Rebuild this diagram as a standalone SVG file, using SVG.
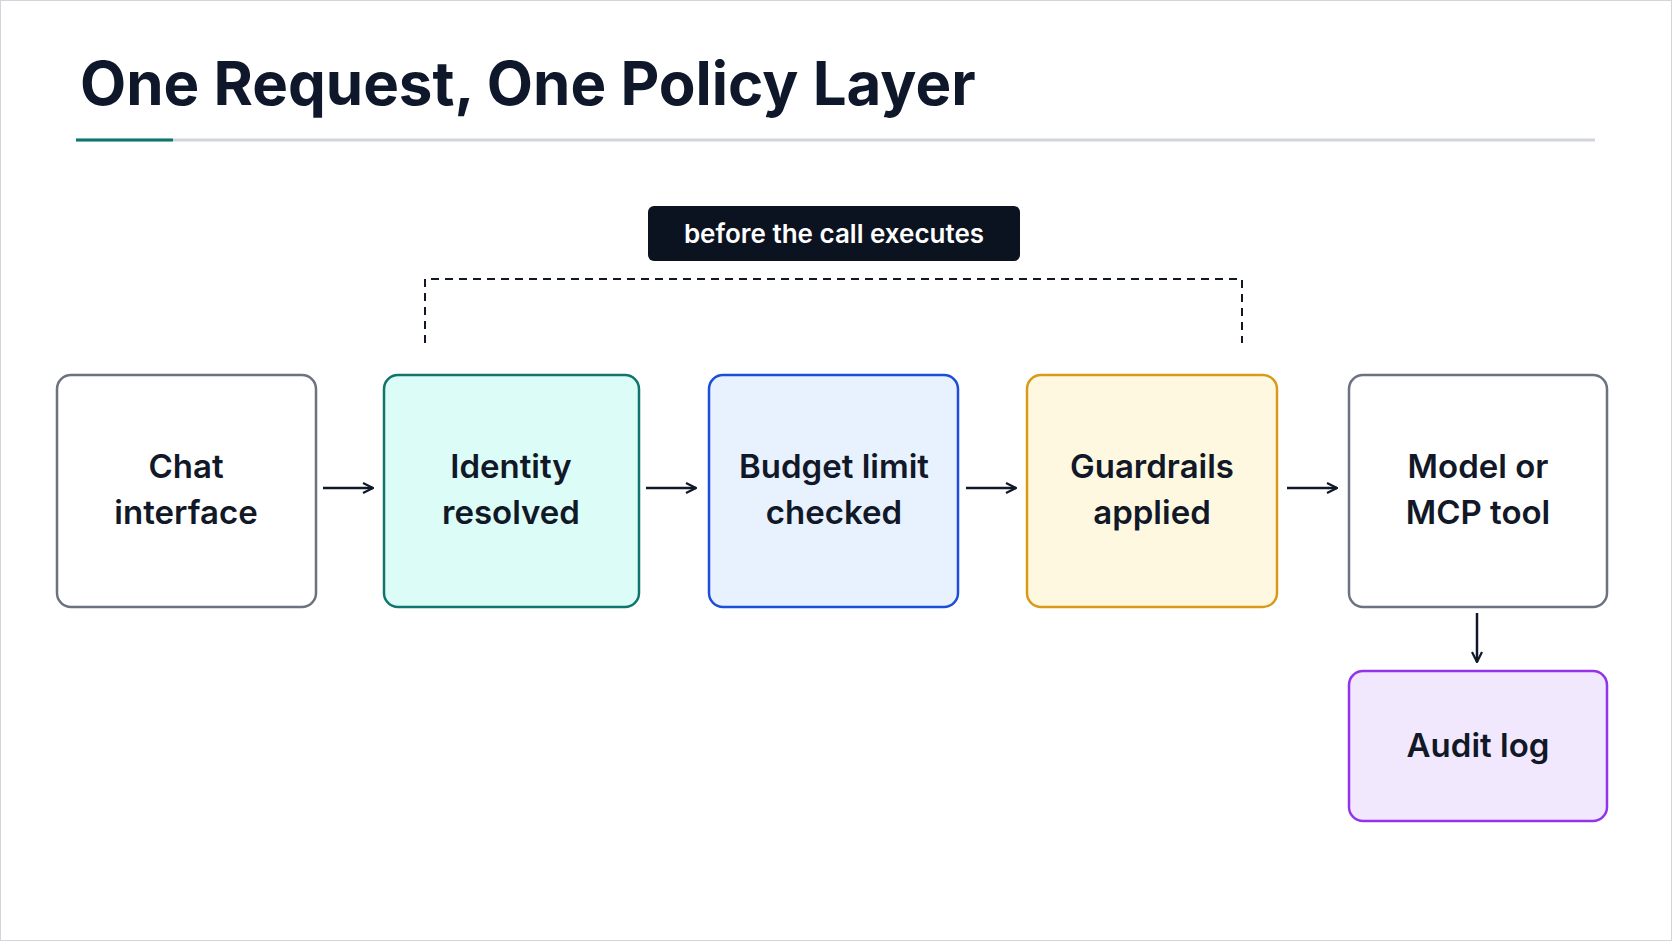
<svg xmlns="http://www.w3.org/2000/svg" width="1672" height="941" viewBox="0 0 1672 941">
<defs>
<style>
.n{stroke-width:2.5}
.t{font-family:Inter,"Liberation Sans",sans-serif;font-weight:600;font-size:33px;fill:#111827;text-anchor:middle}
.c{stroke:#111827;stroke-width:2.5;fill:none}
</style>
<marker id="ah" viewBox="0 0 12 12" refX="11" refY="6" markerWidth="12" markerHeight="12" markerUnits="userSpaceOnUse" orient="auto"><path d="M1 1 L11 6 L1 11" fill="none" stroke="#111827" stroke-width="2.2"/></marker>
</defs>
<rect width="1672" height="941" fill="#fff" stroke="#d1d5db" stroke-width="2"/>
<text x="80" y="105" font-family="Inter,'Liberation Sans',sans-serif" font-weight="700" font-size="60" fill="#0f172a">One Request, One Policy Layer</text>
<line x1="76" y1="140" x2="1595" y2="140" stroke="#d1d5db" stroke-width="3"/>
<line x1="76" y1="140" x2="173" y2="140" stroke="#0f766e" stroke-width="3"/>
<g id="label"><rect x="648" y="206" width="372" height="55" rx="6" fill="#0b1320"/><text x="834" y="243" font-family="Inter,'Liberation Sans',sans-serif" font-weight="600" font-size="26" fill="#fff" text-anchor="middle">before the call executes</text></g>
<g id="connectors">
<path d="M425 343 V279 H1242 V343" fill="none" stroke="#111827" stroke-width="2" stroke-dasharray="8 6"/>
<line class="c" x1="323" y1="488" x2="373" y2="488" marker-end="url(#ah)"/>
<line class="c" x1="646" y1="488" x2="696" y2="488" marker-end="url(#ah)"/>
<line class="c" x1="966" y1="488" x2="1016" y2="488" marker-end="url(#ah)"/>
<line class="c" x1="1287" y1="488" x2="1337" y2="488" marker-end="url(#ah)"/>
<line class="c" x1="1477" y1="613" x2="1477" y2="662" marker-end="url(#ah)"/>
</g>
<g id="chat"><rect class="n" x="57" y="375" width="259" height="232" rx="14" fill="#fff" stroke="#6b7280"/><text class="t" x="186" y="478">Chat</text><text class="t" x="186" y="524">interface</text></g>
<g id="identity"><rect class="n" x="384" y="375" width="255" height="232" rx="14" fill="#dcfcf8" stroke="#0f766e"/><text class="t" x="511" y="478">Identity</text><text class="t" x="511" y="524">resolved</text></g>
<g id="budget"><rect class="n" x="709" y="375" width="249" height="232" rx="14" fill="#e8f1fe" stroke="#1d4ed8"/><text class="t" x="834" y="478">Budget limit</text><text class="t" x="834" y="524">checked</text></g>
<g id="guardrails"><rect class="n" x="1027" y="375" width="250" height="232" rx="14" fill="#fff8e1" stroke="#d99a1a"/><text class="t" x="1152" y="478">Guardrails</text><text class="t" x="1152" y="524">applied</text></g>
<g id="model"><rect class="n" x="1349" y="375" width="258" height="232" rx="14" fill="#fff" stroke="#6b7280"/><text class="t" x="1478" y="478">Model or</text><text class="t" x="1478" y="524">MCP tool</text></g>
<g id="audit"><rect class="n" x="1349" y="671" width="258" height="150" rx="14" fill="#f1e8fd" stroke="#9333ea"/><text class="t" x="1478" y="757">Audit log</text></g>
</svg>
